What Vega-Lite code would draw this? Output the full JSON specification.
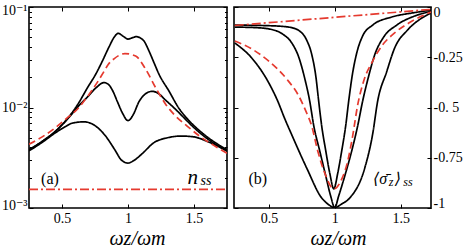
{
 "$schema": "https://vega.github.io/schema/vega-lite/v6.json",
 "background": "white",
 "padding": {"left": 0, "top": 2, "right": 0, "bottom": 0},
 "spacing": 0,
 "config": {
  "view": {"stroke": "black", "strokeWidth": 1.6},
  "axis": {"domain": false, "grid": false, "tickColor": "black", "tickWidth": 1, "labelFont": "Liberation Serif, DejaVu Serif, serif", "labelFontSize": 14, "labelColor": "black", "titleFont": "Liberation Serif, DejaVu Serif, serif", "titleColor": "black", "titleFontWeight": "normal", "zindex": 1},
  "text": {"font": "Liberation Serif, DejaVu Serif, serif", "color": "black"}
 },
 "datasets": {
  "left": [
   {"s":"A","x":0.25,"v":0.0038},{"s":"A","x":0.35,"v":0.0046},{"s":"A","x":0.45,"v":0.0058},{"s":"A","x":0.55,"v":0.008},{"s":"A","x":0.63,"v":0.0113},{"s":"A","x":0.69,"v":0.0155},{"s":"A","x":0.755,"v":0.0214},{"s":"A","x":0.806,"v":0.029},{"s":"A","x":0.856,"v":0.04},{"s":"A","x":0.895,"v":0.05},{"s":"A","x":0.927,"v":0.0547},{"s":"A","x":0.96,"v":0.0515},{"s":"A","x":1.0,"v":0.048},{"s":"A","x":1.035,"v":0.0495},{"s":"A","x":1.063,"v":0.0507},{"s":"A","x":1.095,"v":0.049},{"s":"A","x":1.121,"v":0.0459},{"s":"A","x":1.159,"v":0.0365},{"s":"A","x":1.197,"v":0.0279},{"s":"A","x":1.235,"v":0.0214},{"s":"A","x":1.31,"v":0.0146},{"s":"A","x":1.386,"v":0.0098},{"s":"A","x":1.45,"v":0.0077},{"s":"A","x":1.5,"v":0.0066},{"s":"A","x":1.6,"v":0.0051},{"s":"A","x":1.75,"v":0.0038},
   {"s":"B","x":0.25,"v":0.0038},{"s":"B","x":0.35,"v":0.0046},{"s":"B","x":0.45,"v":0.0058},{"s":"B","x":0.55,"v":0.0079},{"s":"B","x":0.63,"v":0.0105},{"s":"B","x":0.7,"v":0.013},{"s":"B","x":0.76,"v":0.0158},{"s":"B","x":0.818,"v":0.0177},{"s":"B","x":0.855,"v":0.0168},{"s":"B","x":0.885,"v":0.0146},{"s":"B","x":0.92,"v":0.0114},{"s":"B","x":0.96,"v":0.0087},{"s":"B","x":1.0,"v":0.0074},{"s":"B","x":1.04,"v":0.0085},{"s":"B","x":1.083,"v":0.0114},{"s":"B","x":1.13,"v":0.0136},{"s":"B","x":1.184,"v":0.0145},{"s":"B","x":1.23,"v":0.0138},{"s":"B","x":1.28,"v":0.012},{"s":"B","x":1.36,"v":0.0096},{"s":"B","x":1.45,"v":0.0073},{"s":"B","x":1.5,"v":0.0063},{"s":"B","x":1.6,"v":0.0049},{"s":"B","x":1.75,"v":0.0037},
   {"s":"C","x":0.25,"v":0.0037},{"s":"C","x":0.35,"v":0.0045},{"s":"C","x":0.45,"v":0.0056},{"s":"C","x":0.52,"v":0.0064},{"s":"C","x":0.58,"v":0.007},{"s":"C","x":0.667,"v":0.0072},{"s":"C","x":0.75,"v":0.0066},{"s":"C","x":0.83,"v":0.0052},{"s":"C","x":0.9,"v":0.0038},{"s":"C","x":0.95,"v":0.003},{"s":"C","x":1.0,"v":0.0028},{"s":"C","x":1.05,"v":0.003},{"s":"C","x":1.1,"v":0.0034},{"s":"C","x":1.2,"v":0.0045},{"s":"C","x":1.3,"v":0.005},{"s":"C","x":1.4,"v":0.0052},{"s":"C","x":1.5,"v":0.0051},{"s":"C","x":1.6,"v":0.0046},{"s":"C","x":1.75,"v":0.0037},
   {"s":"R","x":0.25,"v":0.0043},{"s":"R","x":0.35,"v":0.0051},{"s":"R","x":0.45,"v":0.0063},{"s":"R","x":0.55,"v":0.0081},{"s":"R","x":0.616,"v":0.0096},{"s":"R","x":0.692,"v":0.0128},{"s":"R","x":0.755,"v":0.0168},{"s":"R","x":0.818,"v":0.0228},{"s":"R","x":0.85,"v":0.0268},{"s":"R","x":0.894,"v":0.0305},{"s":"R","x":0.977,"v":0.0344},{"s":"R","x":1.058,"v":0.0325},{"s":"R","x":1.134,"v":0.024},{"s":"R","x":1.21,"v":0.0157},{"s":"R","x":1.285,"v":0.0108},{"s":"R","x":1.35,"v":0.0085},{"s":"R","x":1.45,"v":0.0065},{"s":"R","x":1.55,"v":0.0051},{"s":"R","x":1.65,"v":0.0042},{"s":"R","x":1.75,"v":0.0035},
   {"s":"D","x":0.25,"v":0.00153},{"s":"D","x":1.75,"v":0.00153}
  ],
  "right": [
   {"s":"N","x":0.24,"y":-0.09},{"s":"N","x":0.498,"y":-0.093},{"s":"N","x":0.65,"y":-0.1},{"s":"N","x":0.733,"y":-0.12},{"s":"N","x":0.786,"y":-0.165},{"s":"N","x":0.824,"y":-0.235},{"s":"N","x":0.855,"y":-0.343},{"s":"N","x":0.877,"y":-0.468},{"s":"N","x":0.9,"y":-0.592},{"s":"N","x":0.931,"y":-0.716},{"s":"N","x":0.961,"y":-0.826},{"s":"N","x":0.992,"y":-0.905},{"s":"N","x":1.022,"y":-0.826},{"s":"N","x":1.052,"y":-0.716},{"s":"N","x":1.082,"y":-0.592},{"s":"N","x":1.105,"y":-0.468},{"s":"N","x":1.135,"y":-0.328},{"s":"N","x":1.166,"y":-0.229},{"s":"N","x":1.211,"y":-0.144},{"s":"N","x":1.287,"y":-0.09},{"s":"N","x":1.431,"y":-0.05},{"s":"N","x":1.584,"y":-0.03},{"s":"N","x":1.73,"y":-0.016},
   {"s":"M","x":0.24,"y":-0.1},{"s":"M","x":0.407,"y":-0.103},{"s":"M","x":0.521,"y":-0.112},{"s":"M","x":0.604,"y":-0.135},{"s":"M","x":0.672,"y":-0.178},{"s":"M","x":0.726,"y":-0.25},{"s":"M","x":0.771,"y":-0.355},{"s":"M","x":0.809,"y":-0.468},{"s":"M","x":0.84,"y":-0.592},{"s":"M","x":0.885,"y":-0.716},{"s":"M","x":0.931,"y":-0.841},{"s":"M","x":0.968,"y":-0.94},{"s":"M","x":0.999,"y":-0.998},{"s":"M","x":1.029,"y":-0.94},{"s":"M","x":1.075,"y":-0.841},{"s":"M","x":1.128,"y":-0.716},{"s":"M","x":1.173,"y":-0.592},{"s":"M","x":1.211,"y":-0.468},{"s":"M","x":1.257,"y":-0.343},{"s":"M","x":1.302,"y":-0.239},{"s":"M","x":1.371,"y":-0.149},{"s":"M","x":1.47,"y":-0.09},{"s":"M","x":1.606,"y":-0.045},{"s":"M","x":1.73,"y":-0.022},
   {"s":"W","x":0.24,"y":-0.179},{"s":"W","x":0.369,"y":-0.254},{"s":"W","x":0.49,"y":-0.368},{"s":"W","x":0.566,"y":-0.468},{"s":"W","x":0.619,"y":-0.555},{"s":"W","x":0.67,"y":-0.632},{"s":"W","x":0.786,"y":-0.801},{"s":"W","x":0.9,"y":-0.95},{"s":"W","x":0.946,"y":-0.98},{"s":"W","x":0.999,"y":-0.998},{"s":"W","x":1.052,"y":-0.98},{"s":"W","x":1.113,"y":-0.95},{"s":"W","x":1.227,"y":-0.801},{"s":"W","x":1.287,"y":-0.632},{"s":"W","x":1.325,"y":-0.468},{"s":"W","x":1.393,"y":-0.323},{"s":"W","x":1.454,"y":-0.204},{"s":"W","x":1.553,"y":-0.114},{"s":"W","x":1.66,"y":-0.055},{"s":"W","x":1.73,"y":-0.03},
   {"s":"R","x":0.24,"y":-0.169},{"s":"R","x":0.369,"y":-0.209},{"s":"R","x":0.498,"y":-0.269},{"s":"R","x":0.634,"y":-0.358},{"s":"R","x":0.726,"y":-0.443},{"s":"R","x":0.779,"y":-0.517},{"s":"R","x":0.824,"y":-0.592},{"s":"R","x":0.87,"y":-0.716},{"s":"R","x":0.923,"y":-0.826},{"s":"R","x":0.992,"y":-0.905},{"s":"R","x":1.052,"y":-0.856},{"s":"R","x":1.098,"y":-0.766},{"s":"R","x":1.135,"y":-0.642},{"s":"R","x":1.173,"y":-0.488},{"s":"R","x":1.219,"y":-0.368},{"s":"R","x":1.287,"y":-0.269},{"s":"R","x":1.356,"y":-0.194},{"s":"R","x":1.454,"y":-0.129},{"s":"R","x":1.561,"y":-0.08},{"s":"R","x":1.66,"y":-0.045},{"s":"R","x":1.73,"y":-0.025},
   {"s":"D","x":0.24,"y":-0.092},{"s":"D","x":1.73,"y":-0.012}
  ],
  "annL": [
   {"k":"plain","x":0.409,"v":0.00193,"t":"(a)"},
   {"k":"big","x":1.45,"v":0.00199,"t":"n"},
   {"k":"sub","x":1.55,"v":0.00186,"t":"ss"}
  ],
  "annR": [
   {"k":"plain","x":0.414,"y":-0.856,"t":"(b)"},
   {"k":"big","x":1.29,"y":-0.856,"t":"⟨σ̄"},
   {"k":"sub","x":1.41,"y":-0.871,"t":"z"},
   {"k":"big","x":1.455,"y":-0.856,"t":"⟩"},
   {"k":"sub","x":1.52,"y":-0.871,"t":"ss"}
  ]
 },
 "hconcat": [
  {
   "width": 198, "height": 201,
   "resolve": {"axis": {"x": "independent", "y": "independent"}},
   "layer": [
    {
     "data": {"name": "left"},
     "mark": {"type": "line", "strokeWidth": 1.7, "interpolate": "monotone", "clip": true},
     "encoding": {
      "x": {"field": "x", "type": "quantitative", "scale": {"domain": [0.25, 1.75], "nice": false, "zero": false},
            "axis": {"orient": "bottom", "values": [0.5, 1, 1.5], "labelExpr": "datum.value == 1 ? '1' : datum.value == 0.5 ? '0.5' : '1.5'", "tickSize": -4, "labelPadding": 7, "title": "ωz/ωm", "titleFontSize": 20, "titleFontStyle": "italic", "titlePadding": 3, "titleX": 108}},
      "y": {"field": "v", "type": "quantitative", "scale": {"type": "log", "domain": [0.001, 0.1], "nice": false},
            "axis": {"orient": "left", "values": [0.001,0.002,0.003,0.004,0.005,0.006,0.007,0.008,0.009,0.01,0.02,0.03,0.04,0.05,0.06,0.07,0.08,0.09,0.1],
                     "labelExpr": "datum.value == 0.1 ? '10⁻¹' : datum.value == 0.01 ? '10⁻²' : datum.value == 0.001 ? '10⁻³' : ''",
                     "tickSize": {"condition": {"test": "datum.value == 0.1 || datum.value == 0.01 || datum.value == 0.001", "value": -4}, "value": -2.5},
                     "labelPadding": 6, "labelFlush": true, "labelFlushOffset": 4, "title": null}},
      "color": {"field": "s", "type": "nominal", "scale": {"domain": ["A","B","C","R","D"], "range": ["black","black","black","#e53a2f","#e53a2f"]}, "legend": null},
      "strokeDash": {"field": "s", "type": "nominal", "scale": {"domain": ["A","B","C","R","D"], "range": [[1,0],[1,0],[1,0],[7,4],[9,3,2,3]]}, "legend": null}
     }
    },
    {
     "data": {"name": "left"},
     "mark": {"type": "point", "opacity": 0},
     "encoding": {
      "x": {"field": "x", "type": "quantitative", "scale": {"domain": [0.25, 1.75], "nice": false, "zero": false},
            "axis": {"orient": "top", "values": [0.5, 1, 1.5], "labels": false, "tickSize": -4, "title": null}},
      "y": {"field": "v", "type": "quantitative", "scale": {"type": "log", "domain": [0.001, 0.1], "nice": false},
            "axis": {"orient": "right", "values": [0.001,0.002,0.003,0.004,0.005,0.006,0.007,0.008,0.009,0.01,0.02,0.03,0.04,0.05,0.06,0.07,0.08,0.09,0.1], "labels": false,
                     "tickSize": {"condition": {"test": "datum.value == 0.1 || datum.value == 0.01 || datum.value == 0.001", "value": -4}, "value": -2.5}, "title": null}}
     }
    },
    {
     "data": {"name": "annL"},
     "transform": [{"filter": "datum.k == 'plain'"}],
     "mark": {"type": "text", "fontSize": 16, "align": "center", "baseline": "middle"},
     "encoding": {
      "x": {"field": "x", "type": "quantitative", "scale": {"domain": [0.25, 1.75], "nice": false, "zero": false}, "axis": null},
      "y": {"field": "v", "type": "quantitative", "scale": {"type": "log", "domain": [0.001, 0.1], "nice": false}, "axis": null},
      "text": {"field": "t"}
     }
    },
    {
     "data": {"name": "annL"},
     "transform": [{"filter": "datum.k == 'big'"}],
     "mark": {"type": "text", "fontSize": 21, "fontStyle": "italic", "align": "left", "baseline": "middle"},
     "encoding": {
      "x": {"field": "x", "type": "quantitative", "scale": {"domain": [0.25, 1.75], "nice": false, "zero": false}, "axis": null},
      "y": {"field": "v", "type": "quantitative", "scale": {"type": "log", "domain": [0.001, 0.1], "nice": false}, "axis": null},
      "text": {"field": "t"}
     }
    },
    {
     "data": {"name": "annL"},
     "transform": [{"filter": "datum.k == 'sub'"}],
     "mark": {"type": "text", "fontSize": 14, "fontStyle": "italic", "align": "left", "baseline": "middle"},
     "encoding": {
      "x": {"field": "x", "type": "quantitative", "scale": {"domain": [0.25, 1.75], "nice": false, "zero": false}, "axis": null},
      "y": {"field": "v", "type": "quantitative", "scale": {"type": "log", "domain": [0.001, 0.1], "nice": false}, "axis": null},
      "text": {"field": "t"}
     }
    }
   ]
  },
  {
   "width": 197, "height": 201,
   "resolve": {"axis": {"x": "independent", "y": "independent"}},
   "layer": [
    {
     "data": {"name": "right"},
     "mark": {"type": "line", "strokeWidth": 1.7, "interpolate": "monotone", "clip": true},
     "encoding": {
      "x": {"field": "x", "type": "quantitative", "scale": {"domain": [0.234, 1.73], "nice": false, "zero": false},
            "axis": {"orient": "bottom", "values": [0.5, 1, 1.5], "labelExpr": "datum.value == 1 ? '1' : datum.value == 0.5 ? '0.5' : '1.5'", "tickSize": -4, "labelPadding": 7, "title": "ωz/ωm", "titleFontSize": 20, "titleFontStyle": "italic", "titlePadding": 3, "titleX": 104}},
      "y": {"field": "y", "type": "quantitative", "scale": {"domain": [-1, 0], "nice": false, "zero": false},
            "axis": {"orient": "right", "values": [-1, -0.75, -0.5, -0.25, 0],
                     "labelExpr": "datum.value == 0 ? '0' : datum.value == -0.25 ? '-0.25' : datum.value == -0.5 ? '-0. 5' : datum.value == -0.75 ? '-0.75' : '-1'",
                     "tickSize": -4, "labelPadding": 6, "labelFlush": true, "labelFlushOffset": 2, "title": null}},
      "color": {"field": "s", "type": "nominal", "scale": {"domain": ["N","M","W","R","D"], "range": ["black","black","black","#e53a2f","#e53a2f"]}, "legend": null},
      "strokeDash": {"field": "s", "type": "nominal", "scale": {"domain": ["N","M","W","R","D"], "range": [[1,0],[1,0],[1,0],[7,4],[9,3,2,3]]}, "legend": null}
     }
    },
    {
     "data": {"name": "right"},
     "mark": {"type": "point", "opacity": 0},
     "encoding": {
      "x": {"field": "x", "type": "quantitative", "scale": {"domain": [0.234, 1.73], "nice": false, "zero": false},
            "axis": {"orient": "top", "values": [0.5, 1, 1.5], "labels": false, "tickSize": -4, "title": null}},
      "y": {"field": "y", "type": "quantitative", "scale": {"domain": [-1, 0], "nice": false, "zero": false},
            "axis": {"orient": "left", "values": [-1, -0.75, -0.5, -0.25, 0], "labels": false, "tickSize": -4, "title": null}}
     }
    },
    {
     "data": {"name": "annR"},
     "transform": [{"filter": "datum.k == 'plain'"}],
     "mark": {"type": "text", "fontSize": 16, "align": "center", "baseline": "middle"},
     "encoding": {
      "x": {"field": "x", "type": "quantitative", "scale": {"domain": [0.234, 1.73], "nice": false, "zero": false}, "axis": null},
      "y": {"field": "y", "type": "quantitative", "scale": {"domain": [-1, 0], "nice": false, "zero": false}, "axis": null},
      "text": {"field": "t"}
     }
    },
    {
     "data": {"name": "annR"},
     "transform": [{"filter": "datum.k == 'big'"}],
     "mark": {"type": "text", "fontSize": 16, "fontStyle": "italic", "align": "left", "baseline": "middle"},
     "encoding": {
      "x": {"field": "x", "type": "quantitative", "scale": {"domain": [0.234, 1.73], "nice": false, "zero": false}, "axis": null},
      "y": {"field": "y", "type": "quantitative", "scale": {"domain": [-1, 0], "nice": false, "zero": false}, "axis": null},
      "text": {"field": "t"}
     }
    },
    {
     "data": {"name": "annR"},
     "transform": [{"filter": "datum.k == 'sub'"}],
     "mark": {"type": "text", "fontSize": 12, "fontStyle": "italic", "align": "left", "baseline": "middle"},
     "encoding": {
      "x": {"field": "x", "type": "quantitative", "scale": {"domain": [0.234, 1.73], "nice": false, "zero": false}, "axis": null},
      "y": {"field": "y", "type": "quantitative", "scale": {"domain": [-1, 0], "nice": false, "zero": false}, "axis": null},
      "text": {"field": "t"}
     }
    }
   ]
  }
 ]
}
